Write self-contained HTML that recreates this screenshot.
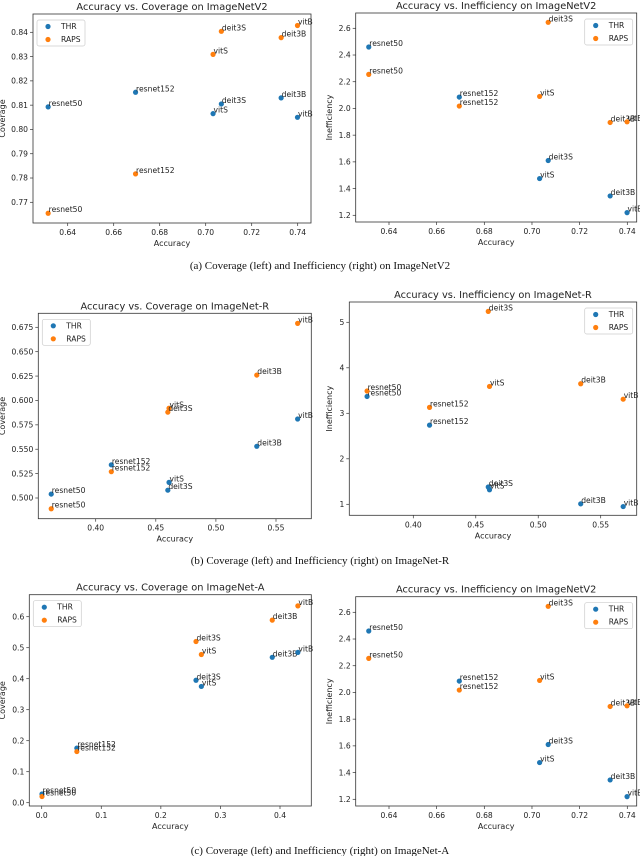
<!DOCTYPE html>
<html><head><meta charset="utf-8">
<style>
html,body{margin:0;padding:0;background:#fff;}
svg{display:block;}
.t{font-family:"DejaVu Sans","Liberation Sans",sans-serif;fill:#222;}
.cap{font-family:"Liberation Serif",serif;font-size:11px;fill:#111;}
</style></head>
<body>
<svg id="fig" width="640" height="856" viewBox="0 0 640 856" xmlns="http://www.w3.org/2000/svg">
<text class="cap" x="320" y="269" text-anchor="middle">(a) Coverage (left) and Inefficiency (right) on ImageNetV2</text>
<text class="cap" x="320" y="564" text-anchor="middle">(b) Coverage (left) and Inefficiency (right) on ImageNet-R</text>
<text class="cap" x="320" y="854" text-anchor="middle">(c) Coverage (left) and Inefficiency (right) on ImageNet-A</text>
</svg>
<script>
const models = ["resnet50","resnet152","vitS","deit3S","deit3B","vitB"];
// ImageNetV2
const v2Acc = [0.6315,0.6695,0.7032,0.7068,0.7328,0.7399];
const v2CovThr = [0.8093,0.8153,0.8065,0.8105,0.8130,0.8050];
const v2CovRaps = [0.7655,0.7817,0.8309,0.8404,0.8378,0.8428];
const v2InefThr = [2.46,2.085,1.475,1.61,1.345,1.22];
const v2InefRaps = [2.255,2.018,2.09,2.645,1.895,1.90];
// ImageNet-R
const rAcc = [0.363,0.413,0.461,0.460,0.534,0.568];
const rCovThr = [0.504,0.534,0.516,0.508,0.553,0.581];
const rCovRaps = [0.489,0.527,0.592,0.588,0.626,0.679];
const rInefThr = [3.37,2.74,1.32,1.38,1.01,0.95];
const rInefRaps = [3.49,3.13,3.59,5.24,3.65,3.31];
// ImageNet-A
const aAcc = [0.0005,0.059,0.268,0.259,0.387,0.430];
const aCovThr = [0.028,0.176,0.375,0.395,0.469,0.485];
const aCovRaps = [0.020,0.165,0.478,0.520,0.589,0.635];
// tick labels
const xTicksV2 = ["0.64","0.66","0.68","0.70","0.72","0.74"];
const xTicksR = ["0.40","0.45","0.50","0.55"];
const xTicksA = ["0.0","0.1","0.2","0.3","0.4"];
const yTicksV2Cov = ["0.77","0.78","0.79","0.80","0.81","0.82","0.83","0.84"];
const yTicksV2Inef = ["1.2","1.4","1.6","1.8","2.0","2.2","2.4","2.6"];
const yTicksRCov = ["0.500","0.525","0.550","0.575","0.600","0.625","0.650","0.675"];
const yTicksRInef = ["1","2","3","4","5"];
const yTicksACov = ["0.0","0.1","0.2","0.3","0.4","0.5","0.6"];

const NS="http://www.w3.org/2000/svg";
const svg=document.getElementById('fig');
function mk(tag,attrs,parent){const e=document.createElementNS(NS,tag);for(const k in attrs)e.setAttribute(k,attrs[k]);(parent||svg).appendChild(e);return e;}
function lin(v0,p0,v1,p1){return v=>p0+(v-v0)*(p1-p0)/(v1-v0);}

function chart(c){
  const g=mk('g',{});
  
  
  const sx=lin(c.xc[0],c.xc[1],c.xc[2],c.xc[3]);
  const sy=lin(c.yc[0],c.yc[1],c.yc[2],c.yc[3]);
  const [L,T,R,B]=c.box;
  const tt=mk('text',{x:(L+R)/2,y:T-4,'text-anchor':'middle','font-size':9.8,class:'t'},g);
  tt.textContent=c.title;
  
  
  c.xt.forEach(s=>{const x=sx(parseFloat(s));
    mk('line',{x1:x,x2:x,y1:B,y2:B+3,stroke:'#333','stroke-width':0.7},g);
    const t=mk('text',{x:x,y:B+12,'text-anchor':'middle','font-size':7.6,class:'t'},g);t.textContent=s;
    
    });
  c.yt.forEach(s=>{const y=sy(parseFloat(s));
    mk('line',{x1:L-3,x2:L,y1:y,y2:y,stroke:'#333','stroke-width':0.7},g);
    const t=mk('text',{x:L-5,y:y+2.7,'text-anchor':'end','font-size':7.6,class:'t'},g);t.textContent=s;
    
    });
  const xl=mk('text',{x:(L+R)/2,y:B+23,'text-anchor':'middle','font-size':8,class:'t'},g);xl.textContent='Accuracy';
  
  
  const yx=c.ylx;
  const yl=mk('text',{x:yx,y:(T+B)/2,'text-anchor':'middle','font-size':8,class:'t',transform:`rotate(-90 ${yx} ${(T+B)/2})`},g);yl.textContent=c.ylab;
  
  
  const series=[[c.thr,'#1f77b4','THR'],[c.raps,'#ff7f0e','RAPS']];
  series.forEach(([ys,col,nm])=>{
    ys.forEach((v,i)=>{const x=sx(c.acc[i]),y=sy(v);
      const p=mk('circle',{cx:x,cy:y,r:2.6,fill:col},g);
      
      
      const t=mk('text',{x:x+0.5,y:y-1,'font-size':7.6,class:'t'},g);t.textContent=models[i];
      
      
    });
  });
  const fr=mk('rect',{x:L,y:T,width:R-L,height:B-T,fill:'none',stroke:'#333','stroke-width':0.8},g);
  
  
  const lx=c.legLeft?L+4:R-52, ly=T+6;
  const lg=mk('g',{},g);
  
  
  mk('rect',{x:lx,y:ly,width:48,height:26,rx:2,fill:'#fff',stroke:'#ccc','stroke-width':0.7},lg);
  series.forEach(([ys,col,nm],k)=>{
    mk('circle',{cx:lx+11,cy:ly+6.5+k*13,r:2.6,fill:col},lg);
    const t=mk('text',{x:lx+24,y:ly+9+k*13,'font-size':7.6,class:'t'},lg);t.textContent=nm;
    
    
  });
}

chart({name:'chart-v2-coverage',title:'Accuracy vs. Coverage on ImageNetV2',ylab:'Coverage',ylx:5,box:[33,14,311,223],
  xc:[0.64,67.7,0.74,297.7],yc:[0.84,32.3,0.77,202.3],xt:xTicksV2,yt:yTicksV2Cov,acc:v2Acc,thr:v2CovThr,raps:v2CovRaps,legLeft:true});
chart({name:'chart-v2-inefficiency',title:'Accuracy vs. Inefficiency on ImageNetV2',ylab:'Inefficiency',ylx:332,box:[355.7,13,636.7,222],
  xc:[0.64,389,0.74,627.3],yc:[2.6,28.3,1.2,215.3],xt:xTicksV2,yt:yTicksV2Inef,acc:v2Acc,thr:v2InefThr,raps:v2InefRaps,legLeft:false});
chart({name:'chart-r-coverage',title:'Accuracy vs. Coverage on ImageNet-R',ylab:'Coverage',ylx:5,box:[38.3,313.3,311.3,518.7],
  xc:[0.40,95.7,0.55,276],yc:[0.675,327.3,0.5,498],xt:xTicksR,yt:yTicksRCov,acc:rAcc,thr:rCovThr,raps:rCovRaps,legLeft:true});
chart({name:'chart-r-inefficiency',title:'Accuracy vs. Inefficiency on ImageNet-R',ylab:'Inefficiency',ylx:332,box:[349.3,302,636.7,515.3],
  xc:[0.40,413.3,0.55,600.7],yc:[5,322.3,1,504.3],xt:xTicksR,yt:yTicksRInef,acc:rAcc,thr:rInefThr,raps:rInefRaps,legLeft:false});
chart({name:'chart-a-coverage',title:'Accuracy vs. Coverage on ImageNet-A',ylab:'Coverage',ylx:5,box:[29.3,594.7,311.3,806],
  xc:[0.0,41.7,0.4,280],yc:[0.6,616.7,0.0,802.7],xt:xTicksA,yt:yTicksACov,acc:aAcc,thr:aCovThr,raps:aCovRaps,legLeft:true});
chart({name:'chart-a-inefficiency',title:'Accuracy vs. Inefficiency on ImageNetV2',ylab:'Inefficiency',ylx:332,box:[355.7,596.7,636.7,806],
  xc:[0.64,389,0.74,627.3],yc:[2.6,612.3,1.2,799.3],xt:xTicksV2,yt:yTicksV2Inef,acc:v2Acc,thr:v2InefThr,raps:v2InefRaps,legLeft:false});
</script>
</body></html>
